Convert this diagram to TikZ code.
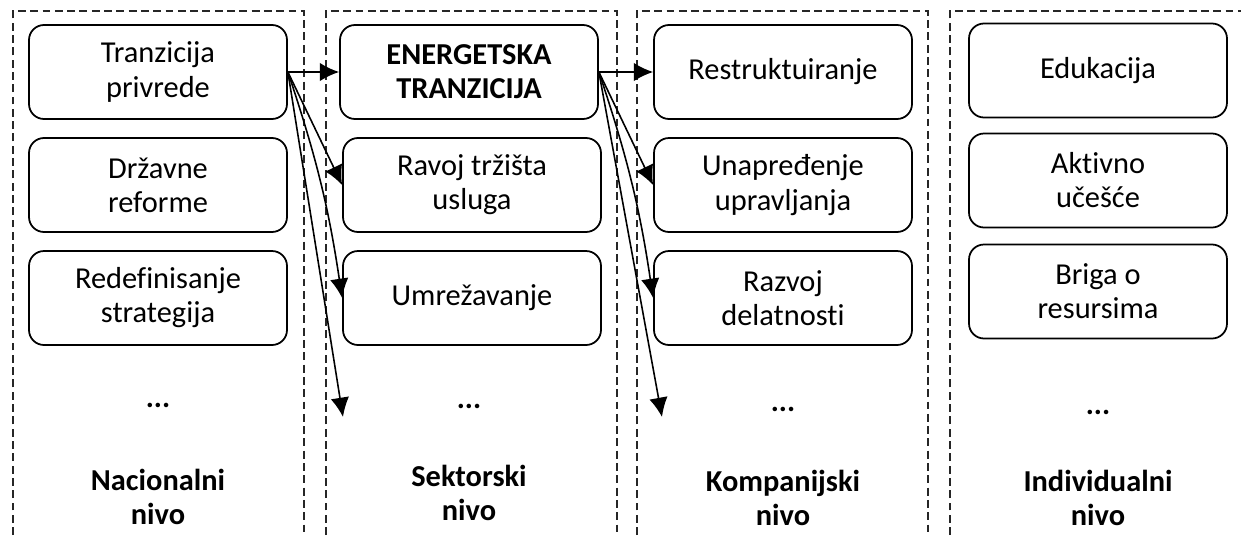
\documentclass[tikz,border=0pt]{standalone}
\usepackage{fontspec}
\setmainfont{Carlito}[Ligatures=NoCommon]
\usetikzlibrary{arrows.meta}
\begin{document}
\begin{tikzpicture}[
	every node/.style={font=\fontsize{17.3}{19.4}\selectfont},
	box/.style={draw,line width=1pt,rounded corners=0.3cm,minimum width=5.16cm,minimum height=1.88cm,align=center,inner sep=0pt},
	lvl/.style={align=center,font=\fontsize{17.3}{19.4}\selectfont\bfseries},
	frame/.style={draw=black!85,line width=0.6pt,dash pattern=on 4.5pt off 2.5pt},
	arr/.style={line width=0.9pt,-{Latex[length=11pt,width=10.5pt]}}]
			\useasboundingbox (0,0) rectangle (24.82,-10.7);
			% levels
			\draw[frame] (0.26,-10.7) |- (6.08,-0.22) -- (6.08,-10.7);
			\draw[frame] (6.52,-10.7) |- (12.34,-0.22) -- (12.34,-10.7);
			\draw[frame] (12.74,-10.7) |- (18.56,-0.22) -- (18.56,-10.7);
			\draw[frame] (19.0,-10.7) |- (24.9,-0.22);
			% nacionalni
			\node[box] (n1) at (3.16,-1.44) {Tranzicija\\privrede};
			\node[box] (n2) at (3.16,-3.70) {Državne\\reforme};
			\node[box] (n3) at (3.16,-5.96) {Redefinisanje\\strategija};
			\node[lvl] (n4) at (3.16,-8.1) {...};
			\node[lvl] (n5) at (3.16,-9.94) {Nacionalni\\nivo};
			% sektorski
			\node[box,font=\fontsize{17.3}{19.4}\selectfont\bfseries] (s1) at (9.38,-1.44) {ENERGETSKA\\TRANZICIJA};
			\node[box] (s2) at (9.44,-3.70) {Ravoj tržišta\\usluga};
			\node[box] (s3) at (9.44,-5.96) {Umrežavanje};
			\node[lvl] (s4) at (9.38,-8.12) {...};
			\node[lvl] (s5) at (9.38,-9.86) {Sektorski\\nivo};
			% kompanijski
			\node[box] (k1) at (15.66,-1.44) {Restruktuiranje};
			\node[box] (k2) at (15.66,-3.70) {Unapređenje\\upravljanja};
			\node[box] (k3) at (15.66,-5.96) {Razvoj\\delatnosti};
			\node[lvl] (k4) at (15.66,-8.18) {...};
			\node[lvl] (k5) at (15.66,-9.96) {Kompanijski\\nivo};
			% individualni
			\node[box] (i1) at (21.96,-1.41) {Edukacija};
			\node[box] (i2) at (21.96,-3.61) {Aktivno\\učešće};
			\node[box] (i3) at (21.96,-5.83) {Briga o\\resursima};
			\node[lvl] (i4) at (21.96,-8.24) {...};
			\node[lvl] (i5) at (21.96,-9.96) {Individualni\\nivo};
			\coordinate (n6) at (6.86,-8.34);
			\coordinate (s6) at (13.24,-8.34);
			\draw[arr] (n1.east) -- (s1.west);
			\draw[arr] (n1.east) -- (s2.west);
			\draw[arr] (n1.east) to[bend left=5] (s3.west);
			\draw[arr] (n1.east) -- (n6);
			\draw[arr] (s1.east) -- (k1.west);
			\draw[arr] (s1.east) -- (k2.west);
			\draw[arr] (s1.east) to[bend left=5] (k3.west);
			\draw[arr] (s1.east) -- (s6);
\end{tikzpicture}
\end{document}
